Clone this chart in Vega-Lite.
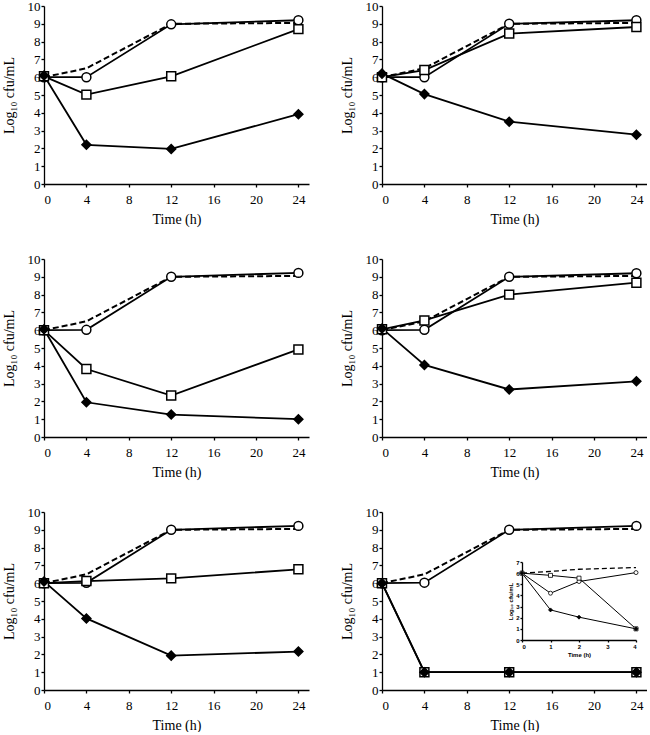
{
  "$schema": "https://vega.github.io/schema/vega-lite/v6.json",
  "background": "white",
  "padding": {"left": 2, "top": 0, "right": 0, "bottom": 0},
  "datasets": {
    "main": [
      {"p":"AMP","s":"control","t":0,"v":6.0},{"p":"AMP","s":"control","t":4,"v":6.5},{"p":"AMP","s":"control","t":12,"v":9.0},{"p":"AMP","s":"control","t":24,"v":9.05},
      {"p":"AMP","s":"circle","t":0,"v":6.0},{"p":"AMP","s":"circle","t":4,"v":6.0},{"p":"AMP","s":"circle","t":12,"v":8.97},{"p":"AMP","s":"circle","t":24,"v":9.2},
      {"p":"AMP","s":"square","t":0,"v":6.05},{"p":"AMP","s":"square","t":4,"v":5.02},{"p":"AMP","s":"square","t":12,"v":6.05},{"p":"AMP","s":"square","t":24,"v":8.7},
      {"p":"AMP","s":"diamond","t":0,"v":6.1},{"p":"AMP","s":"diamond","t":4,"v":2.2},{"p":"AMP","s":"diamond","t":12,"v":1.97},{"p":"AMP","s":"diamond","t":24,"v":3.92},

      {"p":"NAF","s":"control","t":0,"v":6.0},{"p":"NAF","s":"control","t":4,"v":6.5},{"p":"NAF","s":"control","t":12,"v":9.0},{"p":"NAF","s":"control","t":24,"v":9.05},
      {"p":"NAF","s":"circle","t":0,"v":6.0},{"p":"NAF","s":"circle","t":4,"v":6.0},{"p":"NAF","s":"circle","t":12,"v":9.0},{"p":"NAF","s":"circle","t":24,"v":9.2},
      {"p":"NAF","s":"square","t":0,"v":6.0},{"p":"NAF","s":"square","t":4,"v":6.4},{"p":"NAF","s":"square","t":12,"v":8.45},{"p":"NAF","s":"square","t":24,"v":8.82},
      {"p":"NAF","s":"diamond","t":0,"v":6.2},{"p":"NAF","s":"diamond","t":4,"v":5.05},{"p":"NAF","s":"diamond","t":12,"v":3.5},{"p":"NAF","s":"diamond","t":24,"v":2.77},

      {"p":"TZP","s":"control","t":0,"v":6.0},{"p":"TZP","s":"control","t":4,"v":6.5},{"p":"TZP","s":"control","t":12,"v":9.0},{"p":"TZP","s":"control","t":24,"v":9.05},
      {"p":"TZP","s":"circle","t":0,"v":6.0},{"p":"TZP","s":"circle","t":4,"v":6.02},{"p":"TZP","s":"circle","t":12,"v":9.0},{"p":"TZP","s":"circle","t":24,"v":9.22},
      {"p":"TZP","s":"square","t":0,"v":6.0},{"p":"TZP","s":"square","t":4,"v":3.82},{"p":"TZP","s":"square","t":12,"v":2.33},{"p":"TZP","s":"square","t":24,"v":4.92},
      {"p":"TZP","s":"diamond","t":0,"v":6.05},{"p":"TZP","s":"diamond","t":4,"v":1.95},{"p":"TZP","s":"diamond","t":12,"v":1.26},{"p":"TZP","s":"diamond","t":24,"v":1.0},

      {"p":"CFZ","s":"control","t":0,"v":6.0},{"p":"CFZ","s":"control","t":4,"v":6.5},{"p":"CFZ","s":"control","t":12,"v":9.0},{"p":"CFZ","s":"control","t":24,"v":9.05},
      {"p":"CFZ","s":"circle","t":0,"v":6.0},{"p":"CFZ","s":"circle","t":4,"v":6.02},{"p":"CFZ","s":"circle","t":12,"v":9.0},{"p":"CFZ","s":"circle","t":24,"v":9.2},
      {"p":"CFZ","s":"square","t":0,"v":6.05},{"p":"CFZ","s":"square","t":4,"v":6.55},{"p":"CFZ","s":"square","t":12,"v":8.0},{"p":"CFZ","s":"square","t":24,"v":8.67},
      {"p":"CFZ","s":"diamond","t":0,"v":6.1},{"p":"CFZ","s":"diamond","t":4,"v":4.05},{"p":"CFZ","s":"diamond","t":12,"v":2.67},{"p":"CFZ","s":"diamond","t":24,"v":3.13},

      {"p":"FEP","s":"control","t":0,"v":6.0},{"p":"FEP","s":"control","t":4,"v":6.5},{"p":"FEP","s":"control","t":12,"v":9.0},{"p":"FEP","s":"control","t":24,"v":9.05},
      {"p":"FEP","s":"circle","t":0,"v":6.0},{"p":"FEP","s":"circle","t":4,"v":6.02},{"p":"FEP","s":"circle","t":12,"v":9.0},{"p":"FEP","s":"circle","t":24,"v":9.22},
      {"p":"FEP","s":"square","t":0,"v":6.0},{"p":"FEP","s":"square","t":4,"v":6.12},{"p":"FEP","s":"square","t":12,"v":6.27},{"p":"FEP","s":"square","t":24,"v":6.78},
      {"p":"FEP","s":"diamond","t":0,"v":6.1},{"p":"FEP","s":"diamond","t":4,"v":4.02},{"p":"FEP","s":"diamond","t":12,"v":1.93},{"p":"FEP","s":"diamond","t":24,"v":2.16},

      {"p":"MEM","s":"control","t":0,"v":6.0},{"p":"MEM","s":"control","t":4,"v":6.5},{"p":"MEM","s":"control","t":12,"v":9.0},{"p":"MEM","s":"control","t":24,"v":9.05},
      {"p":"MEM","s":"circle","t":0,"v":6.0},{"p":"MEM","s":"circle","t":4,"v":6.03},{"p":"MEM","s":"circle","t":12,"v":9.0},{"p":"MEM","s":"circle","t":24,"v":9.22},
      {"p":"MEM","s":"square","t":0,"v":6.0},{"p":"MEM","s":"square","t":4,"v":1.0},{"p":"MEM","s":"square","t":12,"v":1.0},{"p":"MEM","s":"square","t":24,"v":1.0},
      {"p":"MEM","s":"diamond","t":0,"v":6.0},{"p":"MEM","s":"diamond","t":4,"v":1.0},{"p":"MEM","s":"diamond","t":12,"v":1.0},{"p":"MEM","s":"diamond","t":24,"v":1.0}
    ],
    "inset": [
      {"s":"control","t":0,"v":6.0},{"s":"control","t":1,"v":6.15},{"s":"control","t":2,"v":6.35},{"s":"control","t":4,"v":6.5},
      {"s":"circle","t":0,"v":6.0},{"s":"circle","t":1,"v":4.2},{"s":"circle","t":2,"v":5.25},{"s":"circle","t":4,"v":6.05},
      {"s":"square","t":0,"v":6.0},{"s":"square","t":1,"v":5.8},{"s":"square","t":2,"v":5.55},{"s":"square","t":4,"v":1.0},
      {"s":"diamond","t":0,"v":6.0},{"s":"diamond","t":1,"v":2.7},{"s":"diamond","t":2,"v":2.05},{"s":"diamond","t":4,"v":1.0}
    ]
  },
  "columns": 2,
  "spacing": {"row": 27, "column": 31},
  "concat": [
    {
      "width": 265, "height": 178,
      "data": {"name": "main"},
      "encoding": {
        "x": {"field": "t", "type": "quantitative", "scale": {"domain": [0, 25], "nice": false}, "axis": {"values": [0,4,8,12,16,20,24], "title": "Time (h)"}},
        "y": {"field": "v", "type": "quantitative", "scale": {"domain": [0, 10], "nice": false}, "axis": {"values": [0,1,2,3,4,5,6,7,8,9,10], "title": "Log₁₀ cfu/mL"}}
      },
      "layer": [
        {"transform": [{"filter": "datum.p=='AMP' && datum.s=='control'"}], "mark": {"type": "line", "color": "black", "strokeWidth": 2, "strokeDash": [6, 3]}},
        {"transform": [{"filter": "datum.p=='AMP' && datum.s!='control'"}], "mark": {"type": "line", "color": "black", "strokeWidth": 1.8}, "encoding": {"detail": {"field": "s"}}},
        {"transform": [{"filter": "datum.p=='AMP' && datum.s!='control'"}], "mark": {"type": "point", "filled": true, "stroke": "black", "strokeWidth": 1.5, "size": 80, "opacity": 1},
         "encoding": {"shape": {"field": "s", "scale": {"domain": ["circle","square","diamond"], "range": ["circle","square","diamond"]}, "legend": null},
                      "fill": {"field": "s", "scale": {"domain": ["circle","square","diamond"], "range": ["white","white","black"]}, "legend": null}}},
        {"data": {"values": [{"name": "AMP"}]}, "mark": {"type": "text", "align": "left", "baseline": "middle", "font": "Liberation Serif", "fontSize": 14}, "encoding": {"x": {"datum": 2.1}, "y": {"datum": 9.2}, "text": {"field": "name"}}}
      ]
    },
    {
      "width": 265, "height": 178,
      "data": {"name": "main"},
      "encoding": {
        "x": {"field": "t", "type": "quantitative", "scale": {"domain": [0, 25], "nice": false}, "axis": {"values": [0,4,8,12,16,20,24], "title": "Time (h)"}},
        "y": {"field": "v", "type": "quantitative", "scale": {"domain": [0, 10], "nice": false}, "axis": {"values": [0,1,2,3,4,5,6,7,8,9,10], "title": "Log₁₀ cfu/mL"}}
      },
      "layer": [
        {"transform": [{"filter": "datum.p=='NAF' && datum.s=='control'"}], "mark": {"type": "line", "color": "black", "strokeWidth": 2, "strokeDash": [6, 3]}},
        {"transform": [{"filter": "datum.p=='NAF' && datum.s!='control'"}], "mark": {"type": "line", "color": "black", "strokeWidth": 1.8}, "encoding": {"detail": {"field": "s"}}},
        {"transform": [{"filter": "datum.p=='NAF' && datum.s!='control'"}], "mark": {"type": "point", "filled": true, "stroke": "black", "strokeWidth": 1.5, "size": 80, "opacity": 1},
         "encoding": {"shape": {"field": "s", "scale": {"domain": ["circle","square","diamond"], "range": ["circle","square","diamond"]}, "legend": null},
                      "fill": {"field": "s", "scale": {"domain": ["circle","square","diamond"], "range": ["white","white","black"]}, "legend": null}}},
        {"data": {"values": [{"name": "NAF"}]}, "mark": {"type": "text", "align": "left", "baseline": "middle", "font": "Liberation Serif", "fontSize": 14}, "encoding": {"x": {"datum": 2.1}, "y": {"datum": 9.2}, "text": {"field": "name"}}}
      ]
    },
    {
      "width": 265, "height": 178,
      "data": {"name": "main"},
      "encoding": {
        "x": {"field": "t", "type": "quantitative", "scale": {"domain": [0, 25], "nice": false}, "axis": {"values": [0,4,8,12,16,20,24], "title": "Time (h)"}},
        "y": {"field": "v", "type": "quantitative", "scale": {"domain": [0, 10], "nice": false}, "axis": {"values": [0,1,2,3,4,5,6,7,8,9,10], "title": "Log₁₀ cfu/mL"}}
      },
      "layer": [
        {"transform": [{"filter": "datum.p=='TZP' && datum.s=='control'"}], "mark": {"type": "line", "color": "black", "strokeWidth": 2, "strokeDash": [6, 3]}},
        {"transform": [{"filter": "datum.p=='TZP' && datum.s!='control'"}], "mark": {"type": "line", "color": "black", "strokeWidth": 1.8}, "encoding": {"detail": {"field": "s"}}},
        {"transform": [{"filter": "datum.p=='TZP' && datum.s!='control'"}], "mark": {"type": "point", "filled": true, "stroke": "black", "strokeWidth": 1.5, "size": 80, "opacity": 1},
         "encoding": {"shape": {"field": "s", "scale": {"domain": ["circle","square","diamond"], "range": ["circle","square","diamond"]}, "legend": null},
                      "fill": {"field": "s", "scale": {"domain": ["circle","square","diamond"], "range": ["white","white","black"]}, "legend": null}}},
        {"data": {"values": [{"name": "TZP"}]}, "mark": {"type": "text", "align": "left", "baseline": "middle", "font": "Liberation Serif", "fontSize": 14}, "encoding": {"x": {"datum": 2.3}, "y": {"datum": 9.2}, "text": {"field": "name"}}}
      ]
    },
    {
      "width": 265, "height": 178,
      "data": {"name": "main"},
      "encoding": {
        "x": {"field": "t", "type": "quantitative", "scale": {"domain": [0, 25], "nice": false}, "axis": {"values": [0,4,8,12,16,20,24], "title": "Time (h)"}},
        "y": {"field": "v", "type": "quantitative", "scale": {"domain": [0, 10], "nice": false}, "axis": {"values": [0,1,2,3,4,5,6,7,8,9,10], "title": "Log₁₀ cfu/mL"}}
      },
      "layer": [
        {"transform": [{"filter": "datum.p=='CFZ' && datum.s=='control'"}], "mark": {"type": "line", "color": "black", "strokeWidth": 2, "strokeDash": [6, 3]}},
        {"transform": [{"filter": "datum.p=='CFZ' && datum.s!='control'"}], "mark": {"type": "line", "color": "black", "strokeWidth": 1.8}, "encoding": {"detail": {"field": "s"}}},
        {"transform": [{"filter": "datum.p=='CFZ' && datum.s!='control'"}], "mark": {"type": "point", "filled": true, "stroke": "black", "strokeWidth": 1.5, "size": 80, "opacity": 1},
         "encoding": {"shape": {"field": "s", "scale": {"domain": ["circle","square","diamond"], "range": ["circle","square","diamond"]}, "legend": null},
                      "fill": {"field": "s", "scale": {"domain": ["circle","square","diamond"], "range": ["white","white","black"]}, "legend": null}}},
        {"data": {"values": [{"name": "CFZ"}]}, "mark": {"type": "text", "align": "left", "baseline": "middle", "font": "Liberation Serif", "fontSize": 14}, "encoding": {"x": {"datum": 2.3}, "y": {"datum": 9.2}, "text": {"field": "name"}}}
      ]
    },
    {
      "width": 265, "height": 178,
      "data": {"name": "main"},
      "encoding": {
        "x": {"field": "t", "type": "quantitative", "scale": {"domain": [0, 25], "nice": false}, "axis": {"values": [0,4,8,12,16,20,24], "title": "Time (h)"}},
        "y": {"field": "v", "type": "quantitative", "scale": {"domain": [0, 10], "nice": false}, "axis": {"values": [0,1,2,3,4,5,6,7,8,9,10], "title": "Log₁₀ cfu/mL"}}
      },
      "layer": [
        {"transform": [{"filter": "datum.p=='FEP' && datum.s=='control'"}], "mark": {"type": "line", "color": "black", "strokeWidth": 2, "strokeDash": [6, 3]}},
        {"transform": [{"filter": "datum.p=='FEP' && datum.s!='control'"}], "mark": {"type": "line", "color": "black", "strokeWidth": 1.8}, "encoding": {"detail": {"field": "s"}}},
        {"transform": [{"filter": "datum.p=='FEP' && datum.s!='control'"}], "mark": {"type": "point", "filled": true, "stroke": "black", "strokeWidth": 1.5, "size": 80, "opacity": 1},
         "encoding": {"shape": {"field": "s", "scale": {"domain": ["circle","square","diamond"], "range": ["circle","square","diamond"]}, "legend": null},
                      "fill": {"field": "s", "scale": {"domain": ["circle","square","diamond"], "range": ["white","white","black"]}, "legend": null}}},
        {"data": {"values": [{"name": "FEP"}]}, "mark": {"type": "text", "align": "left", "baseline": "middle", "font": "Liberation Serif", "fontSize": 14}, "encoding": {"x": {"datum": 2.8}, "y": {"datum": 9.2}, "text": {"field": "name"}}}
      ]
    },
    {
      "width": 265, "height": 178,
      "layer": [
        {
          "data": {"name": "main"},
          "encoding": {
            "x": {"field": "t", "type": "quantitative", "scale": {"domain": [0, 25], "nice": false}, "axis": {"values": [0,4,8,12,16,20,24], "title": "Time (h)", "orient": "bottom"}},
            "y": {"field": "v", "type": "quantitative", "scale": {"domain": [0, 10], "nice": false}, "axis": {"values": [0,1,2,3,4,5,6,7,8,9,10], "title": "Log₁₀ cfu/mL", "orient": "left"}}
          },
          "layer": [
            {"transform": [{"filter": "datum.p=='MEM' && datum.s=='control'"}], "mark": {"type": "line", "color": "black", "strokeWidth": 2, "strokeDash": [6, 3]}},
            {"transform": [{"filter": "datum.p=='MEM' && datum.s!='control'"}], "mark": {"type": "line", "color": "black", "strokeWidth": 1.8}, "encoding": {"detail": {"field": "s"}}},
            {"transform": [{"filter": "datum.p=='MEM' && datum.s!='control'"}], "mark": {"type": "point", "filled": true, "stroke": "black", "strokeWidth": 1.5, "size": 80, "opacity": 1},
             "encoding": {"shape": {"field": "s", "scale": {"domain": ["circle","square","diamond"], "range": ["circle","square","diamond"]}, "legend": null},
                          "fill": {"field": "s", "scale": {"domain": ["circle","square","diamond"], "range": ["white","white","black"]}, "legend": null}}},
            {"data": {"values": [{"name": "MEM"}]}, "mark": {"type": "text", "align": "left", "baseline": "middle", "font": "Liberation Serif", "fontSize": 14}, "encoding": {"x": {"datum": 2.6}, "y": {"datum": 9.2}, "text": {"field": "name"}}}
          ]
        },
        {
          "data": {"name": "inset"},
          "encoding": {
            "x": {"field": "t", "type": "quantitative", "scale": {"domain": [0, 4], "range": [140, 254], "nice": false},
                  "axis": {"orient": "bottom", "offset": -50, "values": [0,1,2,3,4], "title": "Time (h)", "labelFont": "Liberation Sans", "labelFontWeight": "bold", "labelFontSize": 6, "titleFont": "Liberation Sans", "titleFontWeight": "bold", "titleFontSize": 6, "tickSize": 2, "labelPadding": 1, "titlePadding": 2}},
            "y": {"field": "v", "type": "quantitative", "scale": {"domain": [0, 7], "range": [128, 50], "nice": false},
                  "axis": {"orient": "left", "offset": -140, "values": [0,1,2,3,4,5,6,7], "title": "Log₁₀ cfu/mL", "labelFont": "Liberation Sans", "labelFontWeight": "bold", "labelFontSize": 6, "titleFont": "Liberation Sans", "titleFontWeight": "bold", "titleFontSize": 6, "tickSize": 2, "labelPadding": 1, "titlePadding": 2}}
          },
          "layer": [
            {"transform": [{"filter": "datum.s=='control'"}], "mark": {"type": "line", "color": "black", "strokeWidth": 1.3, "strokeDash": [5, 3]}},
            {"transform": [{"filter": "datum.s!='control'"}], "mark": {"type": "line", "color": "black", "strokeWidth": 1}, "encoding": {"detail": {"field": "s"}}},
            {"transform": [{"filter": "datum.s!='control'"}], "mark": {"type": "point", "filled": true, "stroke": "black", "strokeWidth": 0.8, "size": 16, "opacity": 1},
             "encoding": {"shape": {"field": "s", "scale": {"domain": ["circle","square","diamond"], "range": ["circle","square","diamond"]}, "legend": null},
                          "fill": {"field": "s", "scale": {"domain": ["circle","square","diamond"], "range": ["white","white","black"]}, "legend": null}}}
          ]
        }
      ],
      "resolve": {"scale": {"x": "independent", "y": "independent"}, "axis": {"x": "independent", "y": "independent"}}
    }
  ],
  "config": {
    "view": {"stroke": null},
    "axis": {
      "grid": false, "domainColor": "black", "tickColor": "black", "labelColor": "black", "titleColor": "black",
      "labelFont": "Liberation Serif", "titleFont": "Liberation Serif", "labelFontSize": 13, "titleFontSize": 14, "titleFontWeight": "normal",
      "tickSize": 3, "domainWidth": 1.3, "tickWidth": 1.3, "labelPadding": 1, "titlePadding": 11
    },
    "axisX": {"labelPadding": 6, "titlePadding": 6}
  }
}
